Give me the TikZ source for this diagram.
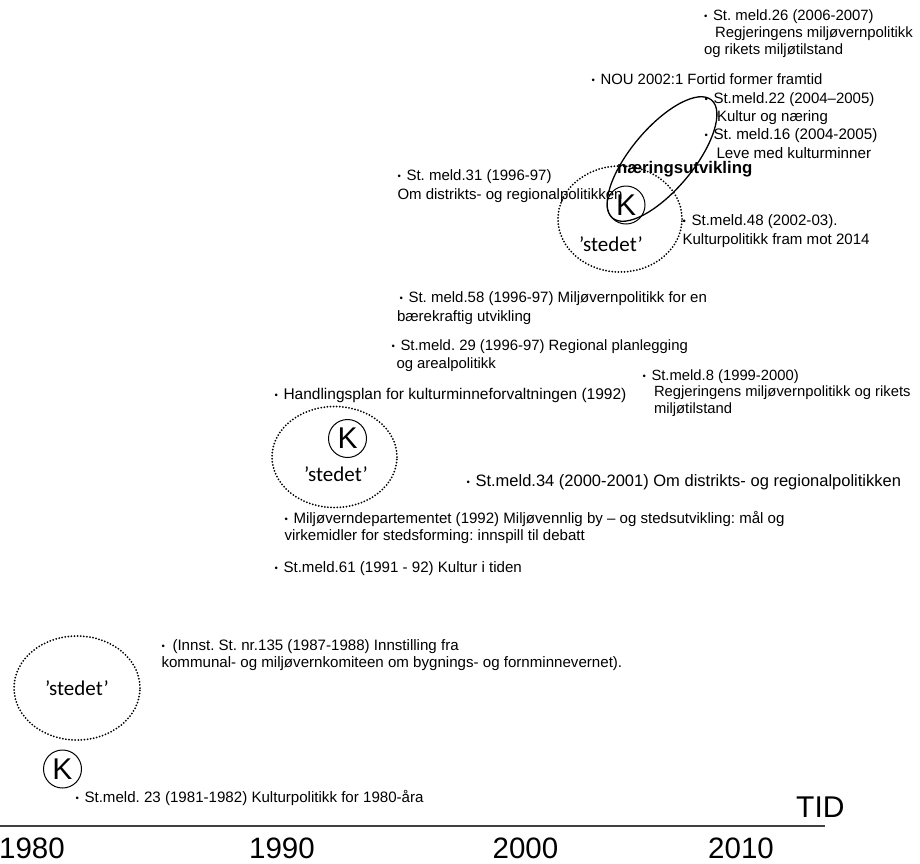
\documentclass[tikz,border=0pt]{standalone}
\usepackage{fontspec}
\setmainfont{Liberation Sans}
\newfontfamily\calib{Carlito}
\usetikzlibrary{shapes.geometric}
\frenchspacing
\newcommand\bul{\makebox[9pt][l]{\fontsize{9.5}{9.5}\selectfont\raisebox{1pt}{•}}}
\newcommand\itm[3][18]{\fontsize{#2}{#1}\selectfont\frenchspacing\begin{tabular}[t]{@{}l@{}}#3\end{tabular}}
\tikzset{
  txt/.style={anchor=base west, inner sep=0pt, outer sep=0pt},
  place/.style={ellipse, draw, line width=2pt, dash pattern=on 0pt off 3.1pt, line cap=round, inner sep=0pt},
  stedlbl/.style={inner sep=0pt, font=\calib\fontsize{21}{21}\selectfont},
  kc/.style={circle, draw, line width=1pt, minimum size=38pt, inner sep=0pt, font=\fontsize{30}{30}\selectfont},
  yr/.style={anchor=base, inner sep=0pt, font=\fontsize{29.5}{30}\selectfont},
  axisline/.style={draw=black!75, line width=1.5pt},
}
\begin{document}
\begin{tikzpicture}[x=1pt,y=-1pt]
\useasboundingbox (0,0) rectangle (920,863);

% axis
\coordinate (axL) at (0,826);
\coordinate (axR) at (825,826);
\draw[axisline] (axL) -- (axR);
\node[yr] (y1980) at (32,858) {1980};
\node[yr] (y1990) at (282,858) {1990};
\node[yr] (y2000) at (525.5,858) {2000};
\node[yr] (y2010) at (741,858) {2010};
\node[anchor=base west, inner sep=0pt, font=\fontsize{30}{30}\selectfont] (tid) at (796,817) {TID};

% places and K
\node[place, minimum width=126pt, minimum height=104pt] (p3) at (77,688) {};
\node[stedlbl] (s3) at (77,688) {’stedet’};
\node[kc] (k3) at (62.5,769) {K};

\node[place, minimum width=125pt, minimum height=101pt] (p2) at (334.5,457) {};
\node[stedlbl] (s2) at (336,474) {’stedet’};
\node[kc] (k2) at (347.5,438.5) {K};

\node[place, minimum width=124pt, minimum height=106pt] (p1) at (620,219) {};
\node[stedlbl] (s1) at (611,244) {’stedet’};
\node[kc] (k1) at (626,205) {K};

\draw[line width=1.3pt, rotate around={50:(662,159)}] (662,159) ellipse [x radius=77, y radius=31];
\node[txt, font=\bfseries\fontsize{16.8}{16.8}\selectfont] (naer) at (617,173) {næringsutvikling};

% texts
\node[txt] (m26) at (704,20) {\itm[17]{14.9}{\bul St. meld.26 (2006-2007)\\ \hspace{11pt}Regjeringens miljøvernpolitikk\\ og rikets miljøtilstand}};
\node[txt] (nou) at (591.5,84) {\itm{14.9}{\bul NOU 2002:1 Fortid former framtid}};
\node[txt] (m22) at (704.5,103) {\itm[18.5]{15}{\bul St.meld.22 (2004–2005)\\ \hspace{12.5pt}Kultur og næring}};
\node[txt] (m16) at (704.5,139) {\itm[19.5]{15.2}{\bul St. meld.16 (2004-2005)\\ \hspace{12pt}Leve med kulturminner}};
\node[txt] (m31) at (397.5,180) {\itm[19]{15}{\bul St. meld.31 (1996-97)\\ Om distrikts- og regionalpolitikken}};
\node[txt] (m48) at (682.5,225.5) {\itm[19]{15.1}{\bul St.meld.48 (2002-03).\\ Kulturpolitikk fram mot 2014}};
\node[txt] (m58) at (399.5,302) {\itm[19]{15}{\bul St. meld.58 (1996-97) Miljøvernpolitikk for en\\ \hspace{-2.5pt}bærekraftig utvikling}};
\node[txt] (m29) at (391.5,350) {\itm{14.9}{\bul St.meld. 29 (1996-97) Regional planlegging\\ \hspace{5pt}og arealpolitikk}};
\node[txt] (m8) at (642.5,380) {\itm[16.5]{14.8}{\bul St.meld.8 (1999-2000)\\ \hspace{11.5pt}Regjeringens miljøvernpolitikk og rikets\\ \hspace{11.5pt}miljøtilstand}};
\node[txt] (hp) at (274.5,399) {\itm{15.5}{\bul Handlingsplan for kulturminneforvaltningen (1992)}};
\node[txt] (m34) at (466.5,486) {\itm{16.5}{\bul St.meld.34 (2000-2001) Om distrikts- og regionalpolitikken}};
\node[txt] (md) at (284.5,523.5) {\itm[17]{15.05}{\bul Miljøverndepartementet (1992) Miljøvennlig by – og stedsutvikling: mål og\\ virkemidler for stedsforming: innspill til debatt}};
\node[txt] (m61) at (274.5,572) {\itm{15.1}{\bul St.meld.61 (1991 - 92) Kultur i tiden}};
\node[txt] (inn) at (161.5,650) {\itm[17]{15.1}{\bul\hspace{2pt}(Innst. St. nr.135 (1987-1988) Innstilling fra\\ kommunal- og miljøvernkomiteen om bygnings- og fornminnevernet).}};
\node[txt] (m23) at (75.5,802) {\itm{15.1}{\bul St.meld. 23 (1981-1982) Kulturpolitikk for 1980-åra}};
\end{tikzpicture}
\end{document}
